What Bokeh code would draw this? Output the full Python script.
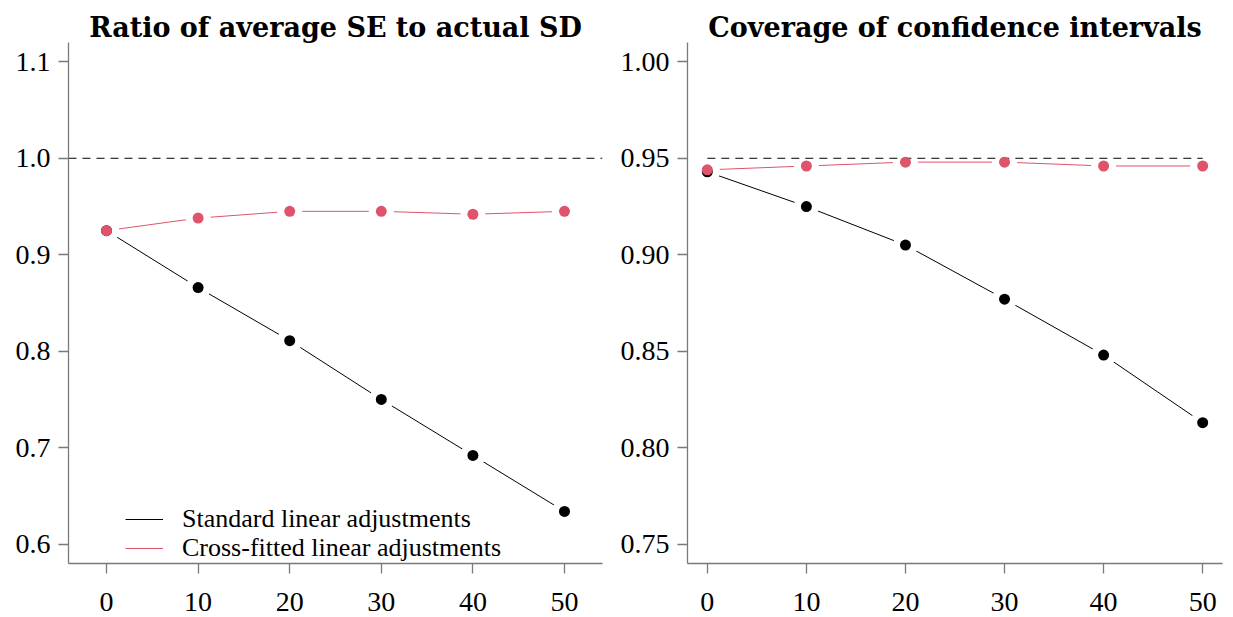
from bokeh.plotting import figure
from bokeh.layouts import row
from bokeh.models import Range1d, FixedTicker, NumeralTickFormatter, Legend, LegendItem, Span
from bokeh.embed import file_html
from bokeh.resources import INLINE

# Simulation settings on the x axis
x_vals = [0, 10, 20, 30, 40, 50]

# Ratio of average SE to actual SD
ratio_standard = [0.925, 0.866, 0.811, 0.750, 0.692, 0.634]
ratio_crossfit = [0.925, 0.938, 0.945, 0.945, 0.942, 0.945]

# Coverage of confidence intervals
cover_standard = [0.943, 0.925, 0.905, 0.877, 0.848, 0.813]
cover_crossfit = [0.944, 0.946, 0.948, 0.948, 0.946, 0.946]

ratio_ticks = [0.6, 0.7, 0.8, 0.9, 1.0, 1.1]
cover_ticks = [0.75, 0.80, 0.85, 0.90, 0.95, 1.00]
ratio_target = 1.0
cover_target = 0.95

titles = ["Ratio of average SE to actual SD", "Coverage of confidence intervals"]
legend_labels = ["Standard linear adjustments", "Cross-fitted linear adjustments"]

RED = "#DF536B"
FONT = "Liberation Serif"
TITLE_FONT = "DejaVu Serif"
AXIS_GREY = "#7a7a7a"


def style(p, yticks, yfmt):
    p.title.text_font = TITLE_FONT
    p.title.text_font_size = "27px"
    p.title.text_font_style = "bold"
    p.title.align = "center"
    p.title.text_color = "black"
    p.title.offset = 0
    p.title.standoff = 0
    p.xgrid.visible = False
    p.ygrid.visible = False
    p.outline_line_color = None
    p.xaxis.ticker = FixedTicker(ticks=x_vals)
    p.yaxis.ticker = FixedTicker(ticks=yticks)
    p.yaxis.formatter = NumeralTickFormatter(format=yfmt)
    for ax in (p.xaxis, p.yaxis):
        ax.axis_line_color = AXIS_GREY
        ax.axis_line_width = 1.3
        ax.major_tick_line_color = AXIS_GREY
        ax.major_tick_line_width = 1.3
        ax.major_tick_in = 0
        ax.major_tick_out = 10
        ax.minor_tick_line_color = None
        ax.major_label_text_font = FONT
        ax.major_label_text_font_size = "28px"
        ax.major_label_text_color = "black"
    p.xaxis.major_label_standoff = 19
    p.yaxis.major_label_standoff = 8


def series(p, ys_std, ys_cf):
    # type "b": lines broken around each point
    r_std = p.line(x_vals, ys_std, line_color="black", line_width=1)
    r_cf = p.line(x_vals, ys_cf, line_color=RED, line_width=1)
    for ys in (ys_std, ys_cf):
        p.scatter(x_vals, ys, size=25, fill_color="white", line_color=None)
    return r_std, r_cf


def points(p, ys_std, ys_cf):
    p.scatter(x_vals, ys_std, size=11, fill_color="black", line_color=None)
    p.scatter(x_vals, ys_cf, size=11, fill_color=RED, line_color=None)


def legend_row(label, renderer, y_offset):
    return Legend(items=[LegendItem(label=label, renderers=[renderer])],
                  location=(57, y_offset), border_line_color=None, background_fill_alpha=0,
                  padding=0, margin=0, spacing=0, glyph_width=38, glyph_height=26,
                  label_height=26, label_standoff=19, label_text_color="black",
                  label_text_font=FONT, label_text_font_size="26px")


# Left panel
p1 = figure(width=617, height=617, output_backend="svg", toolbar_location=None,
            title=titles[0],
            x_range=Range1d(-4.15, 54.15), y_range=Range1d(0.58, 1.12),
            min_border_left=68, min_border_right=15, min_border_top=42, min_border_bottom=54)
style(p1, ratio_ticks, "0.0")
l_std, l_cf = series(p1, ratio_standard, ratio_crossfit)
p1.add_layout(Span(location=ratio_target, dimension="width", line_color="black",
                   line_dash="8 6", line_width=1, level="glyph"))
points(p1, ratio_standard, ratio_crossfit)

p1.add_layout(legend_row(legend_labels[0], l_std, 29))
p1.add_layout(legend_row(legend_labels[1], l_cf, 0))

# Right panel
p2 = figure(width=616, height=617, output_backend="svg", toolbar_location=None,
            title=titles[1],
            x_range=Range1d(-2, 52), y_range=Range1d(0.74, 1.01),
            min_border_left=70, min_border_right=11, min_border_top=42, min_border_bottom=54)
style(p2, cover_ticks, "0.00")
series(p2, cover_standard, cover_crossfit)
p2.line([x_vals[0], x_vals[-1]], [cover_target, cover_target], line_color="black",
        line_dash="8 6", line_width=1)
points(p2, cover_standard, cover_crossfit)

layout = row(p1, p2)
open("out.html", "w").write(file_html(layout, INLINE))
